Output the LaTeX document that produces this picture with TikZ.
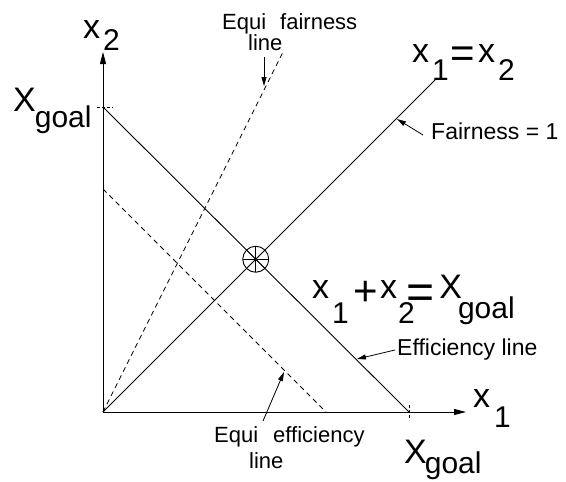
\documentclass[tikz,border=0pt]{standalone}
\usepackage{fontspec}
\setmainfont{Liberation Sans}
\usetikzlibrary{arrows.meta}
\newcommand\lxx{{\fontsize{34}{34}\selectfont x}}
\newcommand\bigX{{\fontsize{34}{34}\selectfont X}}
\begin{document}
\begin{tikzpicture}[x=1pt,y=-1pt,
  ln/.style={line width=0.9pt},
  dsh/.style={line width=0.8pt, dash pattern=on 5pt off 4pt},
  tickmark/.style={line width=0.8pt, dash pattern=on 3pt off 2pt},
  axis/.style={line width=0.9pt, -{Triangle[length=12pt,width=6pt]}},
  lblarrow/.style={line width=0.8pt, -{Triangle[length=9pt,width=5pt]}},
  big/.style={font=\fontsize{30}{30}\selectfont, inner sep=0pt, anchor=base west},
  small/.style={font=\fontsize{22}{22}\selectfont, inner sep=0pt, anchor=base west},
  smallb/.style={font=\fontsize{23}{23}\selectfont, inner sep=0pt, anchor=base west}]

\useasboundingbox (0,0) rectangle (566,482);

% key points
\coordinate (O) at (103,412);
\coordinate (Ytip) at (103,52);
\coordinate (Xtip) at (466,412);
\coordinate (Gy) at (103,107);
\coordinate (Gx) at (409,412);
\coordinate (F) at (437,78);
\coordinate (Ey) at (103,189);
\coordinate (Ex) at (326,412);
\coordinate (Q) at (283,52);

% axes
\draw[axis] (O) -- (Ytip);
\draw[axis] (O) -- (Xtip);

% lines
\draw[ln] (Gy) -- (Gx);
\draw[ln] (O) -- (F);
\draw[dsh] (Ey) -- (Ex);
\draw[dsh] (O) -- (Q);

% goal ticks
\draw[tickmark] ([xshift=-6pt]Gy) -- ([xshift=10pt]Gy);
\draw[tickmark] ([yshift=7pt]Gx) -- ([yshift=-8pt]Gx);

% optimal point marker
\coordinate (C) at (intersection of Gy--Gx and O--F);
\draw[ln] (C) circle[radius=13pt];
\foreach \a in {0,45,90,135}
  \draw[line width=0.7pt] ([shift={(\a:13pt)}]C) -- ([shift={(\a+180:13pt)}]C);
\fill (C) circle[radius=1.5pt];

% big labels
\node[big] (x2lab) at (83,38) {\lxx\hspace{3pt}\raisebox{-12pt}{2}};
\node[big] (xgoaly) at (13,111) {\bigX\hspace{-1pt}\raisebox{-16pt}{goal}};
\node[big] (x1eqx2) at (412,62) {\lxx\hspace{3pt}\raisebox{-18pt}{1}\hspace{1.3pt}\raisebox{-5pt}{\fontsize{42}{42}\selectfont =}\hspace{3.5pt}\lxx\hspace{3pt}\raisebox{-18pt}{2}};
\node[big] (sumlab) at (312,298) {\lxx\hspace{3pt}\raisebox{-25pt}{1}\hspace{4.3pt}\raisebox{-7pt}{\fontsize{42}{42}\selectfont +}\hspace{2.5pt}\lxx\hspace{1pt}\raisebox{-25pt}{2}\hspace{-8pt}\raisebox{-10pt}{\fontsize{48}{48}\selectfont =}\hspace{4.4pt}\bigX\hspace{-4pt}\raisebox{-20pt}{goal}};
\node[big] (x1lab) at (473,407) {\lxx\hspace{4pt}\raisebox{-20pt}{1}};
\node[big] (xgoalx) at (404,463) {\bigX\hspace{-2pt}\raisebox{-10pt}{goal}};

% small labels
\node[small] (eqf1) at (222,29) {Equi\hspace{14pt}fairness};
\node[small] (eqf2) at (248,50) {line};
\node[smallb] (fair) at (431,139) {Fairness = 1};
\node[smallb] (effl) at (397,355) {Efficiency line};
\node[small] (eqe1) at (214,442) {Equi\hspace{15pt}efficiency};
\node[small] (eqe2) at (249,468) {line};

% label arrows
\coordinate (teqf) at (264,57);  \coordinate (heqf) at (264,86);
\coordinate (tfair) at (423,135); \coordinate (hfair) at (397,119);
\coordinate (teff) at (395,350); \coordinate (heff) at (357,359);
\coordinate (teqe) at (263,421); \coordinate (heqe) at (284,372);
\draw[lblarrow] (teqf) -- (heqf);
\draw[lblarrow] (tfair) -- (hfair);
\draw[lblarrow] (teff) -- (heff);
\draw[lblarrow] (teqe) -- (heqe);
\end{tikzpicture}
\end{document}
